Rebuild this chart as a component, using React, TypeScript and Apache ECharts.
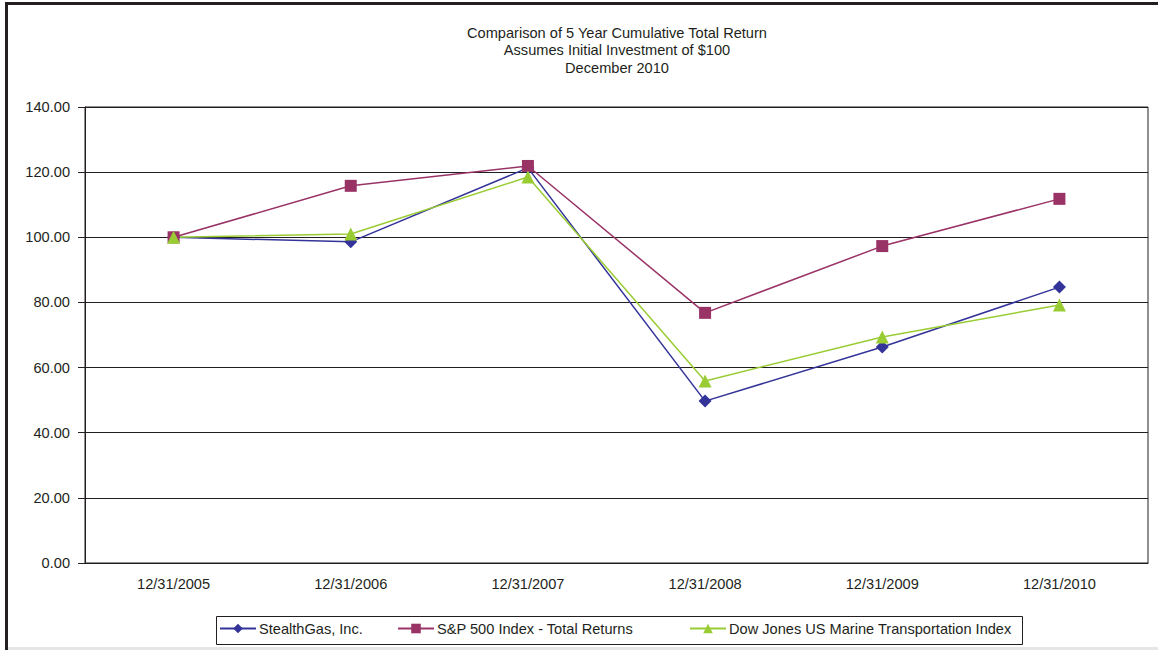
import React, { useEffect, useRef } from "react";
import * as echarts from "echarts";

const categories = ["12/31/2005", "12/31/2006", "12/31/2007", "12/31/2008", "12/31/2009", "12/31/2010"];
const stealthGas = [100.0, 98.6, 121.3, 49.7, 66.3, 84.7];
const sp500 = [100.0, 115.8, 121.9, 76.8, 97.3, 111.8];
const dowJonesMarine = [100.0, 101.0, 118.5, 55.9, 69.4, 79.2];
const seriesNames = [
  "StealthGas, Inc.",
  "S&P 500 Index - Total Returns",
  "Dow Jones US Marine Transportation Index",
];
const titleLines = [
  "Comparison of 5 Year Cumulative Total Return",
  "Assumes Initial Investment of $100",
  "December 2010",
];

const FONT = "'Liberation Sans', Arial, sans-serif";
const FS = 14.6;

export default function App() {
  const ref = useRef<HTMLDivElement>(null);
  useEffect(() => {
    if (!ref.current) return;
    const chart = echarts.init(ref.current, null, { renderer: "svg" });
    const mk = (name: string, data: number[], color: string, symbol: string, size: number) => ({
      name,
      type: "line",
      data,
      symbol,
      symbolSize: size,
      showAllSymbol: true,
      itemStyle: { color },
      lineStyle: { color, width: 1.5 },
      emphasis: { disabled: true },
    });
    const legendLefts = [219, 397, 689];
    chart.setOption({
      animation: false,
      backgroundColor: "#ffffff",
      textStyle: { fontFamily: FONT },
      title: {
        text: titleLines.join("\n"),
        left: 612,
        top: 19,
        textAlign: "center",
        textStyle: { fontSize: FS, fontWeight: "normal", color: "#231f20", lineHeight: 17.5, fontFamily: FONT },
      },
      graphic: [
        { type: "rect", shape: { x: 5, y: 2, width: 1160, height: 3 }, style: { fill: "#231f20" } },
        { type: "rect", shape: { x: 5, y: 2, width: 3, height: 660 }, style: { fill: "#231f20" } },
        { type: "rect", shape: { x: 8, y: 647, width: 1160, height: 3 }, style: { fill: "#e6e6e6" } },
        {
          type: "rect",
          shape: { x: 216.5, y: 616.5, width: 806, height: 28 },
          style: { fill: "none", stroke: "#231f20", lineWidth: 1 },
        },
      ],
      legend: seriesNames.map((n, i) => ({
        data: [n],
        left: legendLefts[i],
        top: 621,
        padding: 0,
        itemWidth: 36,
        itemHeight: 12,
        itemGap: 4,
        textStyle: { fontSize: FS, color: "#231f20", fontFamily: FONT, padding: [0, 0, 0, -2] },
      })),
      grid: {
        left: 85,
        right: 10,
        top: 107,
        bottom: 87,
        show: true,
        borderColor: "#231f20",
        borderWidth: 1,
        backgroundColor: "transparent",
      },
      xAxis: {
        type: "category",
        data: categories,
        boundaryGap: true,
        axisLine: { lineStyle: { color: "#231f20", width: 1 } },
        axisTick: { alignWithLabel: true, inside: true, length: 7, lineStyle: { color: "#231f20" } },
        axisLabel: { fontSize: FS, color: "#231f20", margin: 13, fontFamily: FONT },
        splitLine: { show: false },
      },
      yAxis: {
        type: "value",
        min: 0,
        max: 140,
        interval: 20,
        axisLine: { show: true, lineStyle: { color: "#231f20", width: 1 } },
        axisTick: { show: true, length: 7, lineStyle: { color: "#231f20" } },
        axisLabel: {
          fontSize: FS,
          color: "#231f20",
          margin: 15,
          fontFamily: FONT,
          formatter: (v: number) => v.toFixed(2),
        },
        splitLine: { show: true, lineStyle: { color: "#231f20", width: 1.2 } },
      },
      series: [
        mk(seriesNames[0], stealthGas, "#333399", "diamond", 13),
        mk(seriesNames[1], sp500, "#993366", "rect", 12),
        mk(seriesNames[2], dowJonesMarine, "#99cc33", "triangle", 13),
      ],
    });
    return () => chart.dispose();
  }, []);
  return (
    <div
      ref={ref}
      style={{ position: "absolute", left: 0, top: 0, width: 1158, height: 650 }}
    />
  );
}
